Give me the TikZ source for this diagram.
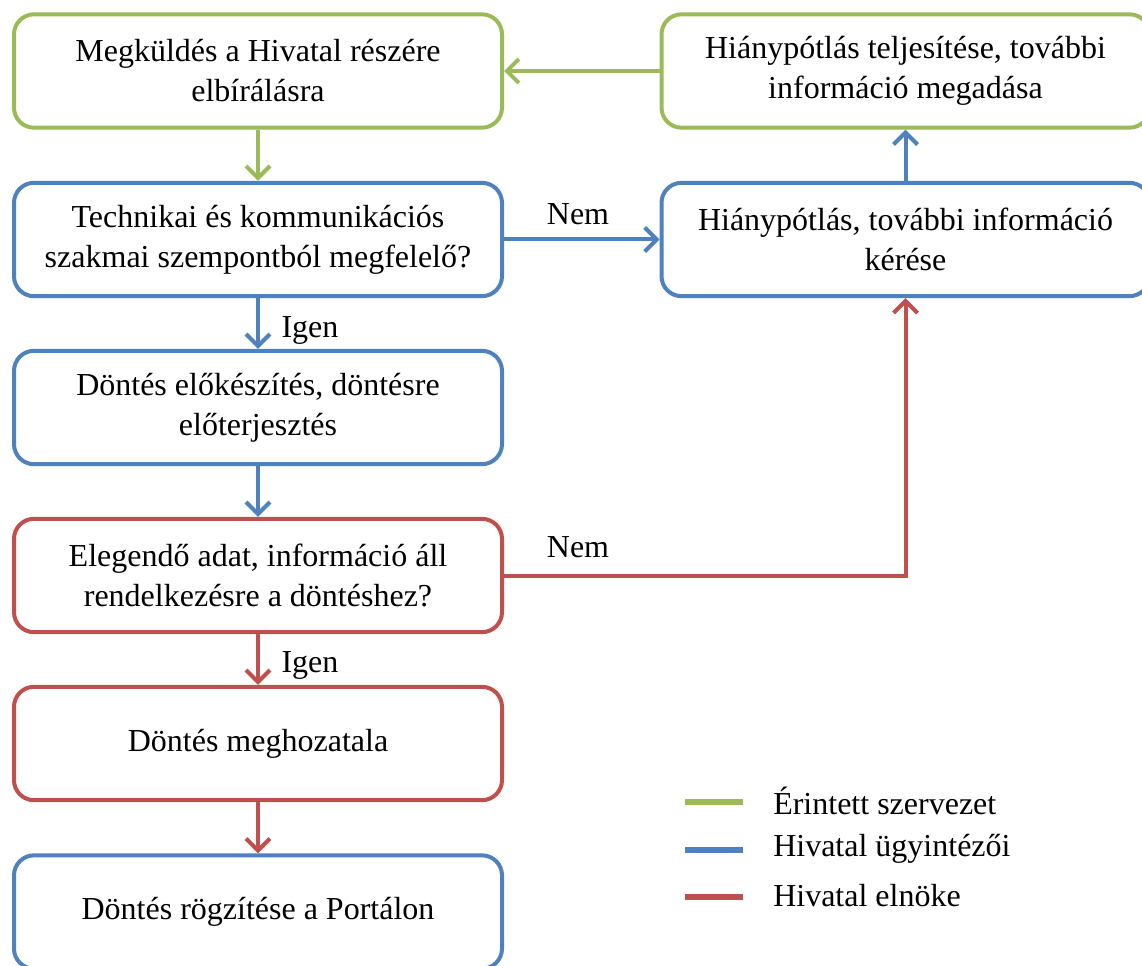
\documentclass[tikz,border=0pt]{standalone}
\usepackage{fontspec}
\setmainfont{Liberation Serif}
\usetikzlibrary{arrows.meta}
\definecolor{cgreen}{HTML}{9BBB59}
\definecolor{cblue}{HTML}{4F81BD}
\definecolor{cred}{HTML}{C0504D}
\begin{document}
\begin{tikzpicture}[x=0.75pt,y=-0.75pt,
  box/.style={draw,line width=3pt,rounded corners=15pt,fill=white,
    minimum width=366pt,minimum height=85pt,align=center,
    font=\fontsize{24}{30}\selectfont},
  conn/.style={line width=3pt,-{Straight Barb[length=9pt,width=18pt]}},
  lbl/.style={font=\fontsize{24}{30}\selectfont,inner sep=0pt},
  leg/.style={line width=4pt}]
\useasboundingbox (0,0) rectangle (1142,966);
\node[box,draw=cgreen] (A) at (258,71) {Megküldés a Hivatal részére\\elbírálásra};
\node[box,draw=cblue] (B) at (258,239.5) {Technikai és kommunikációs\\szakmai szempontból megfelelő?};
\node[box,draw=cblue] (C) at (258,407.5) {Döntés előkészítés, döntésre\\előterjesztés};
\node[box,draw=cred] (D) at (258,575.5) {Elegendő adat, információ áll\\rendelkezésre a döntéshez?};
\node[box,draw=cred] (E) at (258,743.5) {Döntés meghozatala};
\node[box,draw=cblue] (F) at (258,912) {Döntés rögzítése a Portálon};
\node[box,draw=cgreen] (G) at (905.5,71) {Hiánypótlás teljesítése, további\\információ megadása};
\node[box,draw=cblue] (H) at (905.5,239.5) {Hiánypótlás, további információ\\kérése};
\draw[conn,cgreen] (A) -- (B);
\draw[conn,cgreen] (G) -- (A);
\draw[conn,cblue] (B) -- (H);
\draw[conn,cblue] (H) -- (G);
\draw[conn,cblue] (B) -- (C);
\draw[conn,cblue] (C) -- (D);
\draw[conn,cred] (D) -- (E);
\draw[conn,cred] (E) -- (F);
\draw[conn,cred] (D.east) -| (H.south);
\node[lbl] (n1) at (578,214) {Nem};
\node[lbl] (n2) at (578,547) {Nem};
\node[lbl] (i1) at (310,330) {Igen};
\node[lbl] (i2) at (310,665) {Igen};
\draw[leg,cgreen] (685,802) -- (743,802);
\draw[leg,cblue] (685,850) -- (743,850);
\draw[leg,cred] (685,897) -- (743,897);
\node[lbl,anchor=west] (l1) at (773,801) {Érintett szervezet};
\node[lbl,anchor=west] (l2) at (773,849) {Hivatal ügyintézői};
\node[lbl,anchor=west] (l3) at (773,896) {Hivatal elnöke};
\end{tikzpicture}
\end{document}
